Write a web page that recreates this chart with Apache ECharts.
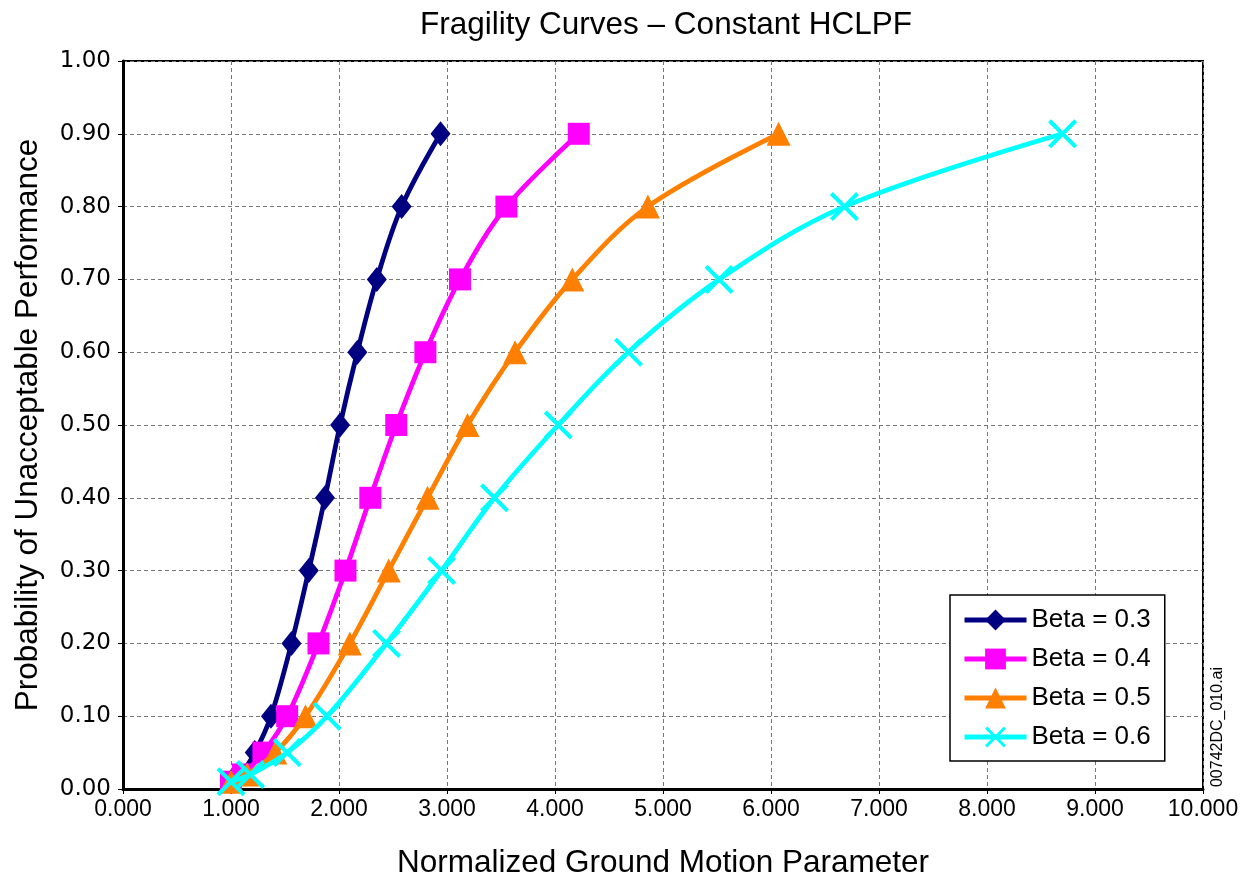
<!DOCTYPE html>
<html>
<head>
<meta charset="utf-8">
<script src="https://cdn.jsdelivr.net/npm/echarts@6/dist/echarts.min.js"></script>
<style>
html,body{margin:0;padding:0;background:#fff;}
#chart{width:1249px;height:879px;}
</style>
</head>
<body>
<div id="chart"></div>
<script>
// Probability levels (y values)
const probs = [0.01, 0.02, 0.05, 0.10, 0.20, 0.30, 0.40, 0.50, 0.60, 0.70, 0.80, 0.90];
// Normalized ground motion parameter (x values) read for each curve
const beta03 = [1.00, 1.09, 1.22, 1.37, 1.56, 1.72, 1.87, 2.01, 2.17, 2.35, 2.58, 2.94];
const beta04 = [1.00, 1.11, 1.30, 1.52, 1.81, 2.06, 2.29, 2.53, 2.80, 3.12, 3.55, 4.22];
const beta05 = [1.00, 1.15, 1.41, 1.69, 2.10, 2.46, 2.82, 3.19, 3.63, 4.16, 4.86, 6.07];
const beta06 = [1.00, 1.18, 1.52, 1.89, 2.44, 2.95, 3.44, 4.03, 4.68, 5.52, 6.68, 8.70];
const seriesNames = ['Beta = 0.3', 'Beta = 0.4', 'Beta = 0.5', 'Beta = 0.6'];

const pairs = xs => xs.map((x, i) => [x, probs[i]]);
const crossPath = 'path://M0,1 L1,0 L5,4 L9,0 L10,1 L6,5 L10,9 L9,10 L5,6 L1,10 L0,9 L4,5 Z';

const styles = [
  {color: '#000080', symbol: 'diamond', size: [20, 25]},
  {color: '#ff00ff', symbol: 'rect', size: 22},
  {color: '#ff8000', symbol: 'triangle', size: 24},
  {color: '#00ffff', symbol: crossPath, size: 29}
];
const dataSets = [beta03, beta04, beta05, beta06];

const chart = echarts.init(document.getElementById('chart'), null, {renderer: 'canvas'});
const sans = '"Liberation Sans", Arial, sans-serif';

chart.setOption({
  animation: false,
  backgroundColor: '#ffffff',
  title: {
    text: 'Fragility Curves \u2013 Constant HCLPF',
    left: 661, top: 4, textAlign: 'center',
    textStyle: {fontFamily: sans, fontSize: 31.5, fontWeight: 'normal', color: '#000'}
  },
  grid: {left: 123, top: 61, right: 46, bottom: 90, show: true, borderColor: '#000', borderWidth: 2,
         containLabel: false, outerBoundsMode: 'none'},
  legend: {
    orient: 'vertical', left: 950, top: 595,
    backgroundColor: '#fff', borderColor: '#000', borderWidth: 1.5,
    padding: [12, 14, 11, 12], itemGap: 13, itemWidth: 62, itemHeight: 26,
    lineStyle: {width: 5},
    textStyle: {fontFamily: sans, fontSize: 26, color: '#000'},
    data: seriesNames
  },
  xAxis: {
    type: 'value', min: 0, max: 10, interval: 1,
    name: 'Normalized Ground Motion Parameter', nameLocation: 'middle', nameGap: 58,
    nameTextStyle: {fontFamily: sans, fontSize: 31.5, color: '#000'},
    axisLine: {show: true, onZero: false, lineStyle: {color: '#000', width: 3}},
    axisTick: {show: true, length: 5, lineStyle: {color: '#000', width: 1}},
    axisLabel: {fontFamily: sans, fontSize: 23, color: '#000', margin: 9, formatter: v => v.toFixed(3)},
    splitLine: {show: true, lineStyle: {color: '#777', width: 1, type: [4, 3]}}
  },
  yAxis: {
    type: 'value', min: 0, max: 1, interval: 0.1,
    name: 'Probability of Unacceptable Performance', nameLocation: 'middle', nameGap: 79,
    nameTextStyle: {fontFamily: sans, fontSize: 31.5, color: '#000'},
    axisLine: {show: true, onZero: false, lineStyle: {color: '#000', width: 3}},
    axisTick: {show: true, length: 5, lineStyle: {color: '#000', width: 1}},
    axisLabel: {fontFamily: '"DejaVu Sans", sans-serif', fontSize: 23, color: '#000', margin: 12, formatter: v => v.toFixed(2)},
    splitLine: {show: true, lineStyle: {color: '#777', width: 1, type: [4, 3]}}
  },
  graphic: [{
    type: 'text', x: 1218, y: 727, rotation: Math.PI / 2,
    style: {text: '00742DC_010.ai', font: '16px "Liberation Sans", Arial, sans-serif', fill: '#000', align: 'center', verticalAlign: 'middle'}
  }],
  series: dataSets.map((d, i) => ({
    name: seriesNames[i], type: 'line', smooth: 0.35,
    data: pairs(d),
    symbol: styles[i].symbol, symbolSize: styles[i].size, showSymbol: true,
    itemStyle: {color: styles[i].color, borderWidth: 0},
    lineStyle: {color: styles[i].color, width: 4.8},
    z: 2 + i
  }))
});
</script>
</body>
</html>
